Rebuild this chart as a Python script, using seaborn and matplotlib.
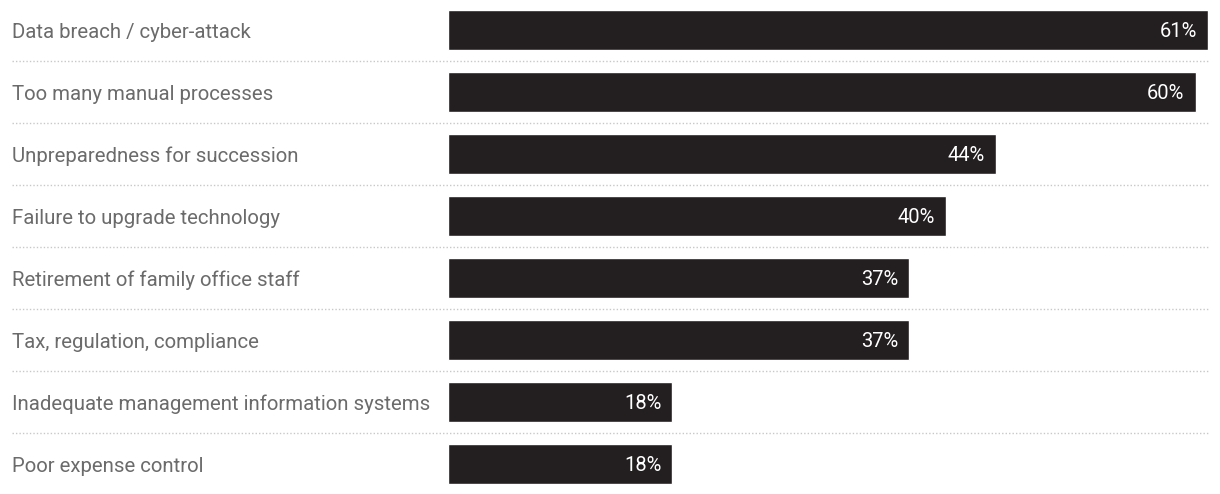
import matplotlib
matplotlib.use("Agg")
import matplotlib.pyplot as plt
import matplotlib.transforms as mtransforms
import seaborn as sns
import pandas as pd

categories = [
    "Data breach / cyber-attack",
    "Too many manual processes",
    "Unpreparedness for succession",
    "Failure to upgrade technology",
    "Retirement of family office staff",
    "Tax, regulation, compliance",
    "Inadequate management information systems",
    "Poor expense control",
]
values = [61, 60, 44, 40, 37, 37, 18, 18]
value_labels = ["61%", "60%", "44%", "40%", "37%", "37%", "18%", "18%"]

df = pd.DataFrame({"category": categories, "value": values})

sns.set_theme(style="white")
plt.rcParams["font.family"] = ["Roboto", "DejaVu Sans"]

W, H = 1220, 494
fig = plt.figure(figsize=(W / 100, H / 100), dpi=100)
left_px, right_px = 448, 1208
ax = fig.add_axes([left_px / W, 0, (right_px - left_px) / W, 1])

sns.barplot(data=df, x="value", y="category", orient="h", color="#231f20",
            width=40 / 62, saturation=1, ax=ax)

ax.set_xlim(0, 61)
ax.set_ylim(len(categories) - 1 + 0.484, -0.484)
ax.set_axis_off()

trans = mtransforms.blended_transform_factory(ax.transAxes, ax.transData)
x_label = (12 - left_px) / (right_px - left_px)
pad = 11 / (right_px - left_px) * 61

for i, (cat, v, lab) in enumerate(zip(categories, values, value_labels)):
    ax.text(x_label, i + 8 / 62, cat, transform=trans, ha="left", va="baseline",
            fontsize=14.7, color="#6b6b6b")
    ax.text(v - pad, i + 7 / 62, lab, ha="right", va="baseline", fontsize=14.5,
            color="white")
    if i < len(categories) - 1:
        ax.plot([x_label, 1], [i + 0.5, i + 0.5], transform=trans,
                clip_on=False, color="#c8c8c8", lw=1, ls=(0, (1, 1.5)))

fig.savefig("out.png", dpi=100, facecolor="white")
